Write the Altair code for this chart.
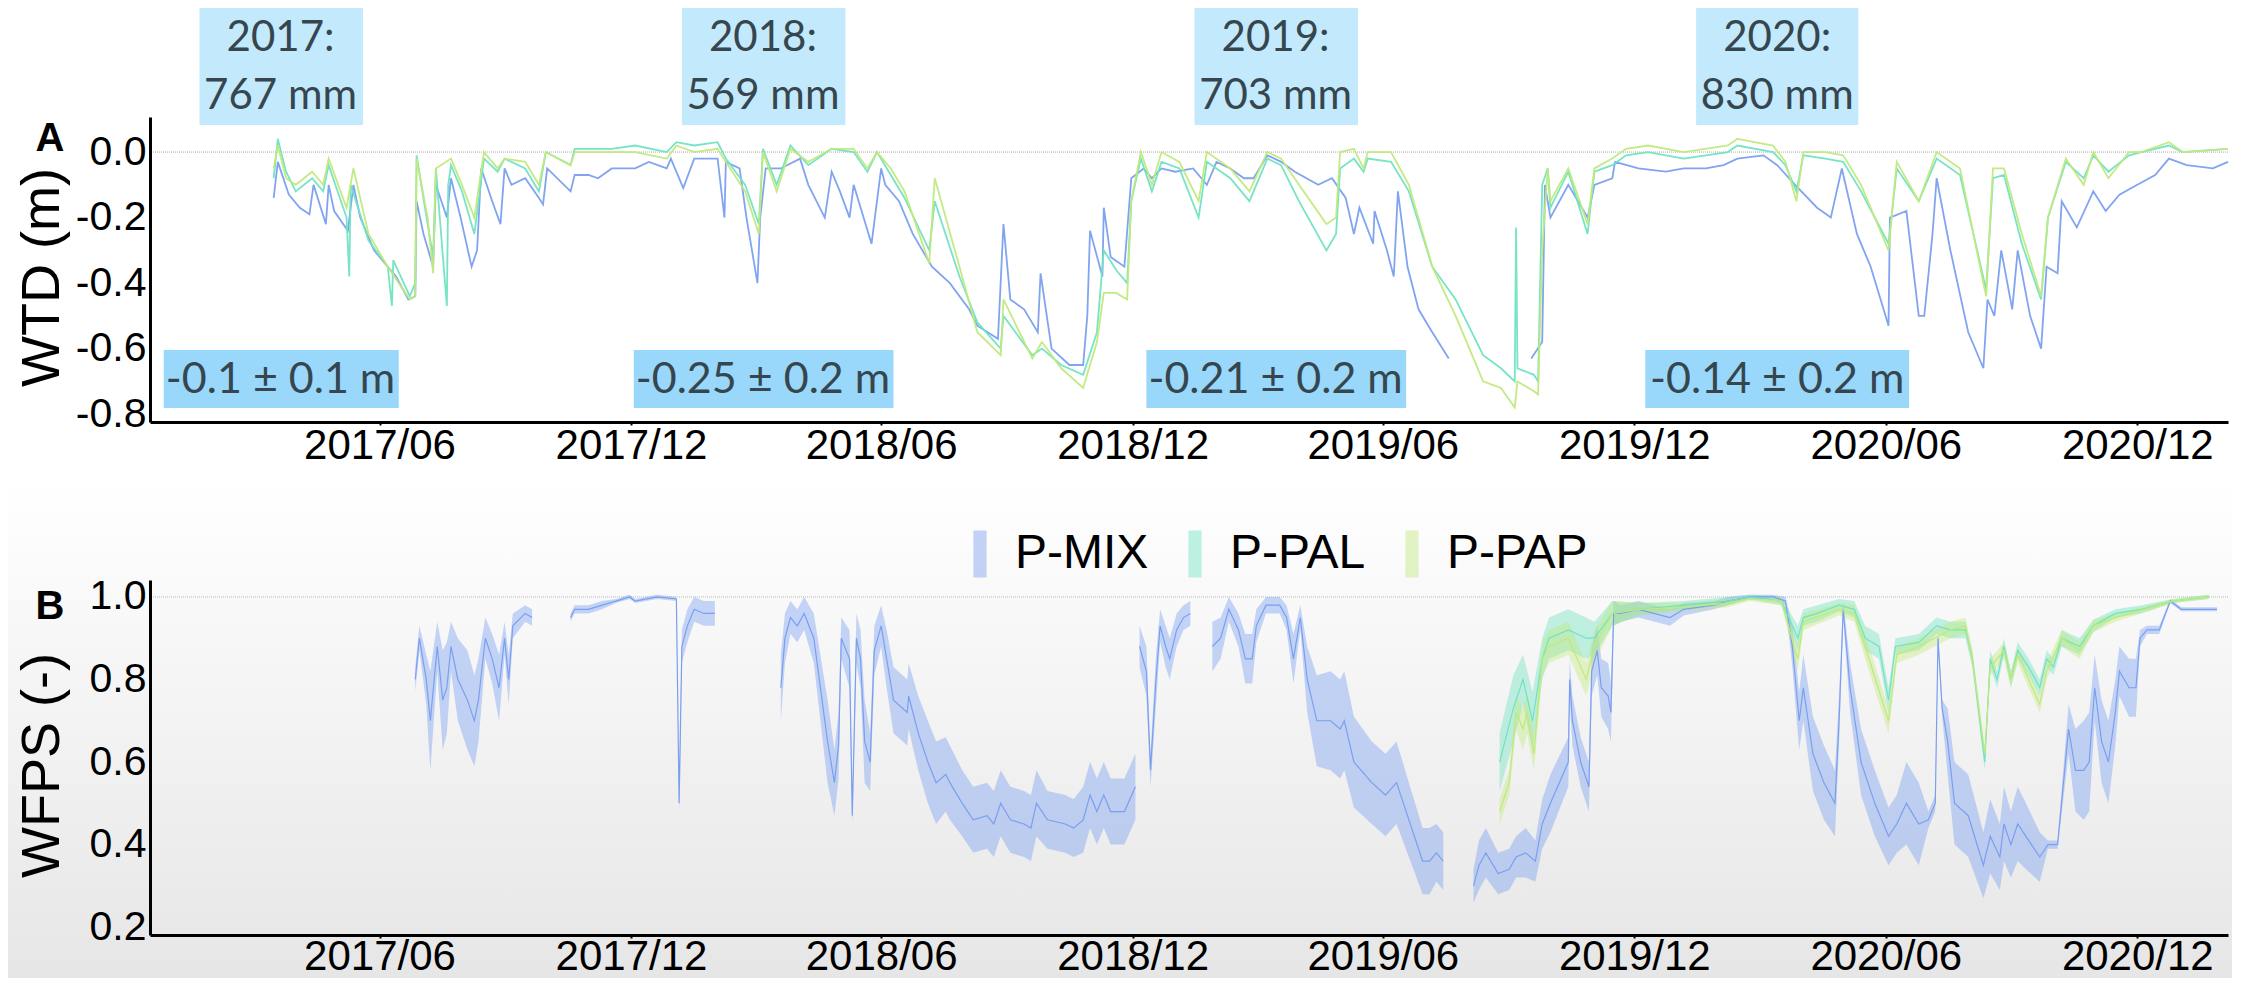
import altair as alt
import pandas as pd

BASE = pd.Timestamp("2017-06-01")  # x values below are days since this date

series_names = ["P-MIX", "P-PAL", "P-PAP"]
series_colors = ["#7a9ff0", "#6fe3c2", "#c0e97c"]

# ---------------- Panel A: water table depth (m), (day, value) ----------------
mix_wtd = [
    (-77, -0.14), (-74, -0.03), (-66, -0.13), (-58, -0.17), (-51, -0.19), (-48, -0.10), (-39, -0.22),
    (-37, -0.10), (-33, -0.18), (-23, -0.24), (-19, -0.10), (-14, -0.20), (-4, -0.30), (6, -0.35),
    (12, -0.38), (21, -0.45), (26, -0.44), (27, -0.15), (32, -0.25), (39, -0.35), (41, -0.10),
    (49, -0.20), (52, -0.08), (59, -0.20), (67, -0.35), (71, -0.30), (74, -0.05), (82, -0.15),
    (88, -0.22), (91, -0.05), (96, -0.10), (106, -0.08), (116, -0.14), (119, -0.16), (122, -0.05),
    (139, -0.12), (142, -0.07), (152, -0.07), (159, -0.08), (169, -0.05), (186, -0.05), (196, -0.03),
    (209, -0.05), (212, -0.02), (221, -0.11), (229, -0.02), (246, -0.02), (251, -0.20), (252, -0.03),
    (262, -0.05), (267, -0.20), (275, -0.40), (277, -0.20), (281, -0.05), (292, -0.05), (306, -0.02),
    (312, -0.10), (324, -0.20), (329, -0.06), (335, -0.12), (342, -0.20), (345, -0.10), (358, -0.28),
    (365, -0.05), (368, -0.10), (378, -0.15), (388, -0.25), (402, -0.35), (415, -0.40), (429, -0.48),
    (435, -0.53), (450, -0.57), (454, -0.22), (459, -0.45), (469, -0.48), (479, -0.55), (481, -0.37),
    (489, -0.60), (502, -0.65), (512, -0.65), (515, -0.50), (517, -0.24), (526, -0.38), (527, -0.17),
    (532, -0.32), (542, -0.35), (547, -0.08), (556, -0.05), (562, -0.08), (569, -0.05), (579, -0.06),
    (592, -0.05), (602, -0.10), (609, -0.03), (619, -0.05), (629, -0.08), (636, -0.08), (646, -0.01),
    (656, -0.03), (666, -0.06), (683, -0.10), (693, -0.08), (703, -0.14), (709, -0.25), (713, -0.17),
    (723, -0.28), (724, -0.18), (733, -0.30), (738, -0.38), (741, -0.12), (748, -0.35), (756, -0.48),
    (766, -0.55), (778, -0.63),
    (838, -0.63), (846, -0.58), (848, -0.10), (852, -0.20), (865, -0.10), (879, -0.20), (884, -0.10),
    (897, -0.08), (899, -0.03), (916, -0.05), (936, -0.06), (949, -0.05), (965, -0.05), (978, -0.04),
    (988, -0.02), (1007, -0.01), (1017, -0.04), (1030, -0.10), (1046, -0.17), (1056, -0.20), (1064, -0.05),
    (1075, -0.25), (1085, -0.35), (1098, -0.53), (1099, -0.20), (1111, -0.18), (1120, -0.50), (1124, -0.50),
    (1130, -0.25), (1133, -0.08), (1143, -0.30), (1156, -0.55), (1167, -0.66), (1170, -0.45), (1175, -0.50),
    (1180, -0.30), (1188, -0.48), (1192, -0.30), (1201, -0.50), (1209, -0.60), (1213, -0.35), (1221, -0.37),
    (1224, -0.15), (1235, -0.23), (1247, -0.12), (1256, -0.18), (1266, -0.13), (1279, -0.10), (1292, -0.07),
    (1302, -0.02), (1315, -0.04), (1334, -0.05), (1345, -0.03),
]
pal_wtd = [
    (-77, -0.08), (-74, 0.04), (-68, -0.06), (-61, -0.12), (-49, -0.08), (-41, -0.12), (-37, -0.04),
    (-24, -0.20), (-22, -0.38), (-21, -0.10), (-8, -0.27), (6, -0.35), (9, -0.47), (10, -0.33),
    (22, -0.44), (26, -0.40), (27, -0.01), (35, -0.22), (39, -0.32), (41, -0.05), (49, -0.47),
    (50, -0.10), (52, -0.04), (60, -0.12), (69, -0.25), (76, -0.02), (86, -0.06), (91, -0.02),
    (106, -0.05), (116, -0.12), (121, 0.00), (139, -0.04), (142, 0.01), (169, 0.01), (186, 0.02),
    (209, 0.00), (216, 0.03), (229, 0.02), (246, 0.03), (252, -0.02), (266, -0.10), (276, -0.22),
    (279, 0.01), (289, -0.10), (299, 0.02), (312, -0.04), (329, 0.01), (345, 0.00), (355, -0.06),
    (362, 0.00), (372, -0.07), (382, -0.14), (400, -0.30), (404, -0.15), (422, -0.38), (435, -0.52),
    (452, -0.60), (454, -0.50), (475, -0.62), (482, -0.60), (496, -0.65), (512, -0.68), (522, -0.55),
    (527, -0.30), (536, -0.36), (544, -0.40), (547, -0.15), (554, -0.02), (562, -0.12), (569, -0.03),
    (582, -0.05), (596, -0.20), (602, -0.03), (619, -0.08), (633, -0.15), (646, -0.02), (656, -0.04),
    (669, -0.15), (689, -0.30), (696, -0.25), (699, -0.05), (709, -0.02), (716, -0.06), (719, -0.02),
    (736, -0.03), (749, -0.12), (766, -0.35), (783, -0.45), (803, -0.62), (816, -0.66), (826, -0.70),
    (827, -0.23), (828, -0.66), (840, -0.68), (843, -0.70), (846, -0.10), (850, -0.05), (852, -0.17),
    (865, -0.06), (879, -0.25), (884, -0.06), (897, -0.04), (907, -0.01), (923, 0.00), (949, -0.02),
    (981, 0.00), (988, 0.02), (1014, 0.00), (1023, -0.04), (1031, -0.12), (1036, -0.01), (1052, -0.02),
    (1065, -0.03), (1078, -0.12), (1098, -0.28), (1104, -0.05), (1120, -0.15), (1133, -0.02), (1150, -0.07),
    (1169, -0.42), (1174, -0.08), (1182, -0.07), (1195, -0.28), (1209, -0.45), (1214, -0.20), (1227, -0.03),
    (1240, -0.08), (1247, -0.01), (1258, -0.06), (1273, -0.01), (1282, 0.00), (1302, 0.02), (1312, 0.00),
    (1345, 0.01),
]
pap_wtd = [
    (-77, -0.05), (-74, 0.02), (-68, -0.08), (-61, -0.10), (-49, -0.06), (-41, -0.10), (-37, -0.02),
    (-24, -0.17), (-19, -0.05), (-8, -0.25), (6, -0.35), (22, -0.45), (26, -0.44), (27, -0.02),
    (35, -0.20), (39, -0.37), (41, -0.05), (52, -0.02), (60, -0.10), (69, -0.20), (76, 0.00),
    (86, -0.05), (91, -0.02), (106, -0.03), (116, -0.10), (121, 0.00), (139, -0.04), (142, 0.00),
    (169, 0.00), (186, 0.00), (209, -0.02), (216, 0.02), (229, 0.00), (246, 0.01), (252, -0.03),
    (266, -0.12), (276, -0.25), (279, 0.00), (289, -0.12), (299, 0.01), (312, -0.03), (329, 0.01),
    (345, 0.01), (355, -0.05), (362, 0.00), (372, -0.05), (382, -0.12), (400, -0.34), (404, -0.08),
    (422, -0.35), (435, -0.55), (452, -0.62), (454, -0.45), (475, -0.63), (482, -0.58), (496, -0.66),
    (512, -0.72), (522, -0.58), (527, -0.43), (536, -0.43), (544, -0.45), (547, -0.15), (554, 0.00),
    (562, -0.10), (569, 0.00), (582, -0.03), (596, -0.15), (602, 0.00), (619, -0.05), (633, -0.12),
    (646, 0.00), (656, -0.02), (669, -0.10), (689, -0.22), (696, -0.20), (699, 0.00), (709, 0.01),
    (716, -0.05), (719, 0.00), (736, 0.00), (749, -0.10), (766, -0.35), (783, -0.50), (803, -0.70),
    (816, -0.72), (826, -0.78), (828, -0.70), (840, -0.73), (843, -0.74), (846, -0.30), (850, -0.05),
    (852, -0.15), (865, -0.05), (879, -0.22), (884, -0.05), (897, -0.02), (907, 0.01), (923, 0.02),
    (949, 0.00), (981, 0.02), (988, 0.04), (1014, 0.02), (1023, -0.03), (1031, -0.15), (1036, 0.00),
    (1052, 0.00), (1065, -0.01), (1078, -0.10), (1098, -0.30), (1104, -0.03), (1120, -0.15), (1133, 0.00),
    (1150, -0.05), (1169, -0.44), (1174, -0.05), (1182, -0.05), (1195, -0.25), (1209, -0.44), (1214, -0.20),
    (1227, -0.02), (1240, -0.10), (1247, 0.00), (1258, -0.08), (1273, 0.00), (1282, 0.00), (1302, 0.03),
    (1312, 0.00), (1345, 0.01),
]

# ---------------- Panel B: WFPS (-), (segment, day, mean, half-spread) ----------------
mix_wfps = [
    (1, 26, 0.80, 0.03), (1, 29, 0.90, 0.03), (1, 34, 0.80, 0.06), (1, 37, 0.70, 0.12), (1, 42, 0.88, 0.06),
    (1, 46, 0.75, 0.12), (1, 49, 0.78, 0.11), (1, 52, 0.88, 0.06), (1, 57, 0.80, 0.10), (1, 64, 0.75, 0.12),
    (1, 69, 0.70, 0.11), (1, 72, 0.75, 0.10), (1, 77, 0.90, 0.05), (1, 82, 0.85, 0.06), (1, 87, 0.78, 0.08),
    (1, 91, 0.90, 0.04), (1, 94, 0.80, 0.06), (1, 97, 0.93, 0.03), (1, 106, 0.96, 0.02), (1, 111, 0.95, 0.02),
    (2, 139, 0.95, 0.01), (2, 142, 0.97, 0.01), (2, 152, 0.97, 0.01), (2, 162, 0.98, 0.01), (2, 172, 0.99, 0.005),
    (2, 182, 1.00, 0.005), (2, 186, 0.99, 0.005), (2, 202, 1.00, 0.005), (2, 216, 0.995, 0.005), (2, 218, 0.50, 0.02),
    (2, 220, 0.88, 0.04), (2, 224, 0.93, 0.04), (2, 229, 0.97, 0.03), (2, 236, 0.96, 0.03), (2, 244, 0.96, 0.03),
    (3, 292, 0.78, 0.08), (3, 295, 0.90, 0.06), (3, 299, 0.95, 0.04), (3, 304, 0.93, 0.04), (3, 309, 0.96, 0.04),
    (3, 316, 0.90, 0.06), (3, 326, 0.65, 0.10), (3, 331, 0.55, 0.08), (3, 334, 0.64, 0.08), (3, 336, 0.90, 0.05),
    (3, 342, 0.85, 0.07), (3, 344, 0.47, 0.02), (3, 347, 0.90, 0.06), (3, 350, 0.85, 0.07), (3, 353, 0.65, 0.10),
    (3, 357, 0.60, 0.07), (3, 360, 0.87, 0.06), (3, 365, 0.93, 0.05), (3, 369, 0.85, 0.07), (3, 374, 0.75, 0.08),
    (3, 384, 0.72, 0.08), (3, 385, 0.76, 0.08), (3, 392, 0.67, 0.09), (3, 399, 0.60, 0.10), (3, 405, 0.55, 0.10),
    (3, 412, 0.57, 0.09), (3, 415, 0.55, 0.09), (3, 424, 0.50, 0.08), (3, 432, 0.46, 0.08), (3, 442, 0.47, 0.08),
    (3, 447, 0.45, 0.08), (3, 452, 0.50, 0.08), (3, 459, 0.46, 0.08), (3, 469, 0.45, 0.08), (3, 474, 0.44, 0.08),
    (3, 478, 0.50, 0.08), (3, 486, 0.46, 0.07), (3, 499, 0.45, 0.07), (3, 505, 0.44, 0.07), (3, 512, 0.46, 0.08),
    (3, 517, 0.52, 0.08), (3, 522, 0.48, 0.08), (3, 527, 0.52, 0.08), (3, 532, 0.48, 0.08), (3, 542, 0.48, 0.08),
    (3, 550, 0.54, 0.08),
    (4, 553, 0.88, 0.05), (4, 558, 0.82, 0.06), (4, 561, 0.58, 0.04), (4, 565, 0.80, 0.06), (4, 568, 0.93, 0.04),
    (4, 572, 0.88, 0.05), (4, 575, 0.85, 0.05), (4, 580, 0.92, 0.04), (4, 585, 0.95, 0.03), (4, 590, 0.96, 0.03),
    (5, 606, 0.88, 0.06), (5, 612, 0.90, 0.05), (5, 618, 0.97, 0.03), (5, 625, 0.92, 0.04), (5, 630, 0.85, 0.06),
    (5, 635, 0.85, 0.06), (5, 638, 0.93, 0.04), (5, 645, 0.98, 0.02), (5, 655, 0.98, 0.02), (5, 660, 0.95, 0.03),
    (5, 665, 0.85, 0.06), (5, 670, 0.95, 0.03), (5, 675, 0.80, 0.08), (5, 682, 0.70, 0.11), (5, 692, 0.70, 0.12),
    (5, 699, 0.68, 0.12), (5, 702, 0.70, 0.12), (5, 709, 0.60, 0.11), (5, 722, 0.55, 0.10), (5, 732, 0.52, 0.10),
    (5, 740, 0.55, 0.10), (5, 749, 0.46, 0.09), (5, 759, 0.36, 0.08), (5, 764, 0.36, 0.08), (5, 769, 0.38, 0.07),
    (5, 774, 0.36, 0.07),
    (6, 796, 0.30, 0.04), (6, 800, 0.35, 0.06), (6, 805, 0.38, 0.06), (6, 814, 0.33, 0.05), (6, 822, 0.34, 0.05),
    (6, 827, 0.37, 0.05), (6, 834, 0.38, 0.06), (6, 841, 0.36, 0.05), (6, 846, 0.45, 0.06), (6, 852, 0.50, 0.07),
    (6, 865, 0.60, 0.06), (6, 866, 0.80, 0.05), (6, 868, 0.70, 0.06), (6, 874, 0.60, 0.06), (6, 880, 0.54, 0.06),
    (6, 882, 0.82, 0.06), (6, 886, 0.87, 0.06), (6, 889, 0.78, 0.07), (6, 894, 0.76, 0.08), (6, 896, 0.72, 0.07),
    (6, 898, 0.96, 0.03), (6, 903, 0.96, 0.02), (6, 916, 0.97, 0.02), (6, 939, 0.95, 0.02), (6, 949, 0.97, 0.015),
    (6, 971, 0.98, 0.01), (6, 981, 0.99, 0.01), (6, 997, 1.00, 0.005), (6, 1014, 1.00, 0.005), (6, 1023, 0.99, 0.01),
    (6, 1028, 0.88, 0.05), (6, 1033, 0.70, 0.07), (6, 1036, 0.78, 0.08), (6, 1043, 0.62, 0.09), (6, 1051, 0.55, 0.09),
    (6, 1059, 0.50, 0.08), (6, 1062, 0.70, 0.06), (6, 1065, 0.97, 0.02), (6, 1070, 0.78, 0.06), (6, 1078, 0.60, 0.08),
    (6, 1088, 0.50, 0.08), (6, 1098, 0.42, 0.07), (6, 1104, 0.45, 0.07), (6, 1111, 0.50, 0.10), (6, 1120, 0.45, 0.10),
    (6, 1127, 0.46, 0.02), (6, 1132, 0.50, 0.02), (6, 1134, 0.90, 0.01), (6, 1137, 0.73, 0.02), (6, 1141, 0.65, 0.08),
    (6, 1146, 0.50, 0.10), (6, 1156, 0.47, 0.10), (6, 1167, 0.35, 0.08), (6, 1172, 0.42, 0.09), (6, 1179, 0.37, 0.08),
    (6, 1182, 0.45, 0.09), (6, 1187, 0.40, 0.08), (6, 1192, 0.45, 0.09), (6, 1198, 0.42, 0.08), (6, 1208, 0.37, 0.06),
    (6, 1214, 0.40, 0.01), (6, 1221, 0.40, 0.01), (6, 1229, 0.68, 0.06), (6, 1234, 0.58, 0.10), (6, 1240, 0.58, 0.12),
    (6, 1244, 0.60, 0.12), (6, 1248, 0.78, 0.08), (6, 1253, 0.65, 0.10), (6, 1258, 0.60, 0.10), (6, 1263, 0.72, 0.08),
    (6, 1266, 0.82, 0.06), (6, 1273, 0.78, 0.07), (6, 1278, 0.78, 0.07), (6, 1281, 0.90, 0.02), (6, 1286, 0.92, 0.01),
    (6, 1295, 0.92, 0.01), (6, 1303, 0.99, 0.005), (6, 1311, 0.97, 0.005), (6, 1337, 0.97, 0.005),
]
pal_wfps = [
    (1, 815, 0.60, 0.07), (1, 825, 0.73, 0.08), (1, 832, 0.80, 0.06), (1, 839, 0.70, 0.07), (1, 846, 0.85, 0.05),
    (1, 851, 0.90, 0.05), (1, 865, 0.92, 0.05), (1, 878, 0.90, 0.05), (1, 884, 0.90, 0.04), (1, 897, 0.96, 0.03),
    (1, 916, 0.97, 0.015), (1, 949, 0.98, 0.01), (1, 981, 0.99, 0.01), (1, 997, 1.00, 0.005), (1, 1020, 0.99, 0.01),
    (1, 1032, 0.90, 0.03), (1, 1036, 0.95, 0.02), (1, 1046, 0.96, 0.02), (1, 1062, 0.98, 0.015), (1, 1073, 0.97, 0.02),
    (1, 1081, 0.90, 0.03), (1, 1091, 0.88, 0.03), (1, 1098, 0.75, 0.03), (1, 1103, 0.88, 0.02), (1, 1120, 0.89, 0.02),
    (1, 1133, 0.93, 0.02), (1, 1143, 0.92, 0.02), (1, 1154, 0.92, 0.02), (1, 1159, 0.85, 0.02), (1, 1168, 0.60, 0.02),
    (1, 1172, 0.85, 0.02), (1, 1177, 0.80, 0.02), (1, 1182, 0.88, 0.02), (1, 1187, 0.80, 0.02), (1, 1192, 0.87, 0.02),
    (1, 1200, 0.83, 0.02), (1, 1208, 0.78, 0.02), (1, 1213, 0.85, 0.02), (1, 1218, 0.83, 0.02), (1, 1224, 0.90, 0.02),
    (1, 1237, 0.88, 0.02), (1, 1247, 0.93, 0.015), (1, 1263, 0.96, 0.01), (1, 1282, 0.97, 0.01), (1, 1305, 0.99, 0.005),
    (1, 1331, 1.00, 0.005),
]
pap_wfps = [
    (1, 815, 0.48, 0.03), (1, 822, 0.55, 0.03), (1, 827, 0.72, 0.04), (1, 832, 0.68, 0.05), (1, 835, 0.72, 0.05),
    (1, 840, 0.62, 0.04), (1, 846, 0.85, 0.04), (1, 851, 0.88, 0.04), (1, 865, 0.90, 0.04), (1, 878, 0.80, 0.04),
    (1, 884, 0.88, 0.04), (1, 897, 0.96, 0.03), (1, 916, 0.97, 0.015), (1, 949, 0.975, 0.01), (1, 981, 0.985, 0.01),
    (1, 997, 0.995, 0.005), (1, 1020, 0.99, 0.01), (1, 1032, 0.85, 0.03), (1, 1036, 0.94, 0.02), (1, 1062, 0.97, 0.015),
    (1, 1073, 0.96, 0.02), (1, 1081, 0.88, 0.03), (1, 1098, 0.70, 0.03), (1, 1104, 0.86, 0.02), (1, 1120, 0.88, 0.02),
    (1, 1143, 0.92, 0.02), (1, 1154, 0.93, 0.02), (1, 1159, 0.85, 0.02), (1, 1168, 0.62, 0.02), (1, 1172, 0.83, 0.02),
    (1, 1182, 0.87, 0.02), (1, 1187, 0.80, 0.02), (1, 1192, 0.86, 0.02), (1, 1208, 0.74, 0.02), (1, 1213, 0.82, 0.02),
    (1, 1224, 0.90, 0.02), (1, 1237, 0.87, 0.02), (1, 1247, 0.93, 0.015), (1, 1263, 0.95, 0.01), (1, 1305, 0.99, 0.005),
    (1, 1331, 1.00, 0.005),
]

# ---------------- annotations ----------------
rain_year = ["2017:", "2018:", "2019:", "2020:"]
rain_total = ["767 mm", "569 mm", "703 mm", "830 mm"]
rain_box_start = ["2017-01-21", "2018-01-07", "2019-01-15", "2020-01-15"]
rain_box_end = ["2017-05-20", "2018-05-06", "2019-05-14", "2020-05-12"]
wtd_stat = ["-0.1 \u00b1 0.1 m", "-0.25 \u00b1 0.2 m", "-0.21 \u00b1 0.2 m", "-0.14 \u00b1 0.2 m"]
wtd_box_start = ["2016-12-26", "2017-12-03", "2018-12-11", "2019-12-09"]
wtd_box_end = ["2017-06-15", "2018-06-10", "2019-06-18", "2020-06-18"]
tick_months = [(2017, 6), (2017, 12), (2018, 6), (2018, 12), (2019, 6), (2019, 12), (2020, 6), (2020, 12)]
wtd_ticks = [-0.8, -0.6, -0.4, -0.2, 0.0]
wfps_ticks = [0.2, 0.4, 0.6, 0.8, 1.0]


def iso(d):
    return (BASE + pd.Timedelta(days=float(d))).strftime("%Y-%m-%d")


rows_a = []
for name, pts in zip(series_names, [mix_wtd, pal_wtd, pap_wtd]):
    seg, prev = 0, None
    for d, v in pts:
        if prev is not None and d - prev > 40:
            seg += 1
        prev = d
        rows_a.append({"series": name, "seg": f"{name}-{seg}", "date": iso(d), "wtd": v})
df_a = pd.DataFrame(rows_a)

rows_b = []
for name, pts in zip(series_names, [mix_wfps, pal_wfps, pap_wfps]):
    for s, d, m, sp in pts:
        rows_b.append({"series": name, "seg": f"{name}-{s}", "date": iso(d),
                       "mean": m, "lo": m - sp, "hi": m + sp})
df_b = pd.DataFrame(rows_b)


def mids(starts, ends):
    s = pd.to_datetime(pd.Series(starts))
    e = pd.to_datetime(pd.Series(ends))
    return (s + (e - s) / 2).dt.strftime("%Y-%m-%d").tolist()


df_rain = pd.DataFrame({"year": rain_year, "total": rain_total, "start": rain_box_start,
                        "end": rain_box_end, "mid": mids(rain_box_start, rain_box_end)})
df_stat = pd.DataFrame({"stat": wtd_stat, "start": wtd_box_start, "end": wtd_box_end,
                        "mid": mids(wtd_box_start, wtd_box_end)})
one = pd.DataFrame({"k": [0]})

# ---------------- layout / styles ----------------
W = 2078
HA = 305
HB = 355
FONT = "Liberation Sans"
ANN_FONT = "Lato"
ANN_COLOR = "#36464e"

x_scale = alt.Scale(type="utc", nice=False,
                    domain=[alt.DateTime(year=2016, month=12, date=16, utc=True),
                            alt.DateTime(year=2021, month=2, date=5, utc=True)])


def x_axis(pad):
    return alt.Axis(values=[alt.DateTime(year=y, month=m, date=1, utc=True) for y, m in tick_months],
                    labelExpr="utcFormat(datum.value, '%Y/%m')", title=None, grid=False, zindex=2,
                    labelFont=FONT, labelFontSize=42, labelColor="black", labelPadding=pad,
                    labelFlush=False, labelOverlap=False, labelLimit=400,
                    domainColor="black", domainWidth=3, tickColor="black", tickSize=3, tickWidth=2)


xa = x_axis(0)
xb = x_axis(-2)

color_scale = alt.Scale(domain=series_names, range=series_colors)

y_scale_a = alt.Scale(domain=[-0.824, 0.107], nice=False, zero=False)
y_axis_a = alt.Axis(values=wtd_ticks, format=".1f", labelExpr="replace(datum.label, '\u2212', '-')",
                    title="WTD (m)", titleFont=FONT, titleFontSize=54, titleFontWeight="normal",
                    titleColor="black", titleAngle=270, titleX=-108, titleY=160,
                    titleAlign="center", titleBaseline="middle", zindex=2,
                    labelFont=FONT, labelFontSize=41, labelColor="black", labelPadding=4,
                    ticks=False, grid=False, domainColor="black", domainWidth=3)

y_scale_b = alt.Scale(domain=[0.181, 1.041], nice=False, zero=False)
y_axis_b = alt.Axis(values=wfps_ticks, format=".1f",
                    title="WFPS (-)", titleFont=FONT, titleFontSize=54, titleFontWeight="normal",
                    titleColor="black", titleAngle=270, titleX=-108, titleY=185,
                    titleAlign="center", titleBaseline="middle", zindex=2,
                    labelFont=FONT, labelFontSize=41, labelColor="black", labelPadding=4,
                    ticks=False, grid=False, domainColor="black", domainWidth=3)


def X(field, axis):
    return alt.X(field, type="temporal", scale=x_scale, axis=axis)


# ---------------- Panel A ----------------
bg_a = alt.Chart(one).mark_rect(fill="white").encode(
    x=alt.value(-142), x2=alt.value(W + 4), y=alt.value(-109), y2=alt.value(HA + 58))

zero_rule = alt.Chart(one).mark_rule(color="#a8a8a8", strokeDash=[1, 1], strokeWidth=1).encode(
    y=alt.YDatum(0.0, scale=y_scale_a, axis=y_axis_a))

rain_box = alt.Chart(df_rain).mark_rect(fill="#c3e9fc").encode(
    x=X("start", xa), x2="end:T", y=alt.value(-109), y2=alt.value(8))
rain_t1 = alt.Chart(df_rain).mark_text(font=ANN_FONT, fontSize=42, color=ANN_COLOR, baseline="middle").encode(
    x=X("mid", xa), y=alt.value(-79), text="year:N")
rain_t2 = alt.Chart(df_rain).mark_text(font=ANN_FONT, fontSize=42, color=ANN_COLOR, baseline="middle").encode(
    x=X("mid", xa), y=alt.value(-21), text="total:N")

stat_box = alt.Chart(df_stat).mark_rect(fill="#99d8fb").encode(
    x=X("start", xa), x2="end:T", y=alt.value(233), y2=alt.value(291))
stat_t = alt.Chart(df_stat).mark_text(font=ANN_FONT, fontSize=43, color=ANN_COLOR, baseline="middle").encode(
    x=X("mid", xa), y=alt.value(263), text="stat:N")

lines_a = alt.Chart(df_a).mark_line(strokeWidth=1.8, opacity=0.95).encode(
    x=X("date", xa),
    y=alt.Y("wtd:Q", scale=y_scale_a, axis=y_axis_a),
    color=alt.Color("series:N", scale=color_scale, legend=None),
    detail="seg:N")

label_a = alt.Chart(one).mark_text(text="A", font=FONT, fontSize=40, fontWeight="bold", color="black",
                                   baseline="middle", align="center").encode(
    x=alt.value(-100), y=alt.value(22))

panel_a = alt.layer(bg_a, rain_box, rain_t1, rain_t2, stat_box, stat_t, zero_rule, lines_a, label_a).properties(
    width=W, height=HA)

# ---------------- Panel B ----------------
grad = alt.Gradient(gradient="linear", x1=0, x2=0, y1=0, y2=1,
                    stops=[alt.GradientStop(color="#ffffff", offset=0),
                           alt.GradientStop(color="#e6e6e6", offset=1)])
bg_b = alt.Chart(one).mark_rect(fill=grad).encode(
    x=alt.value(-142), x2=alt.value(W + 4), y=alt.value(-100), y2=alt.value(HB + 43))

one_rule = alt.Chart(one).mark_rule(color="#b8b8b8", strokeDash=[1, 1], strokeWidth=1).encode(
    y=alt.YDatum(1.0, scale=y_scale_b, axis=y_axis_b))

legend_b = alt.Legend(title=None, orient="none", legendX=806, legendY=-50, direction="horizontal",
                      symbolType="M-0.28,-1L0.28,-1L0.28,1L-0.28,1Z", symbolSize=2209,
                      symbolOpacity=0.45, symbolStrokeWidth=0,
                      labelFont=FONT, labelFontSize=48, labelColor="black", labelOffset=11,
                      labelLimit=400, columnPadding=22, padding=0)

band_b = alt.Chart(df_b).mark_area(opacity=0.42).encode(
    x=X("date", xb),
    y=alt.Y("lo:Q", scale=y_scale_b, axis=y_axis_b),
    y2="hi:Q",
    color=alt.Color("series:N", scale=color_scale, legend=legend_b),
    detail="seg:N")
line_b = alt.Chart(df_b).mark_line(strokeWidth=1.2).encode(
    x=X("date", xb),
    y=alt.Y("mean:Q", scale=y_scale_b, axis=y_axis_b),
    color=alt.Color("series:N", scale=color_scale, legend=legend_b),
    detail="seg:N")

label_b = alt.Chart(one).mark_text(text="B", font=FONT, fontSize=40, fontWeight="bold", color="black",
                                   baseline="middle", align="center").encode(
    x=alt.value(-100), y=alt.value(27))

panel_b = alt.layer(bg_b, one_rule, band_b, line_b, label_b).properties(width=W, height=HB)

chart = (
    alt.vconcat(panel_a, panel_b, spacing=0)
    .resolve_scale(color="independent")
    .resolve_legend(color="independent")
    .properties(padding=0, background="white")
    .configure_view(stroke=None)
)

chart.save("out.html", embed_options={"renderer": "svg", "actions": False})
